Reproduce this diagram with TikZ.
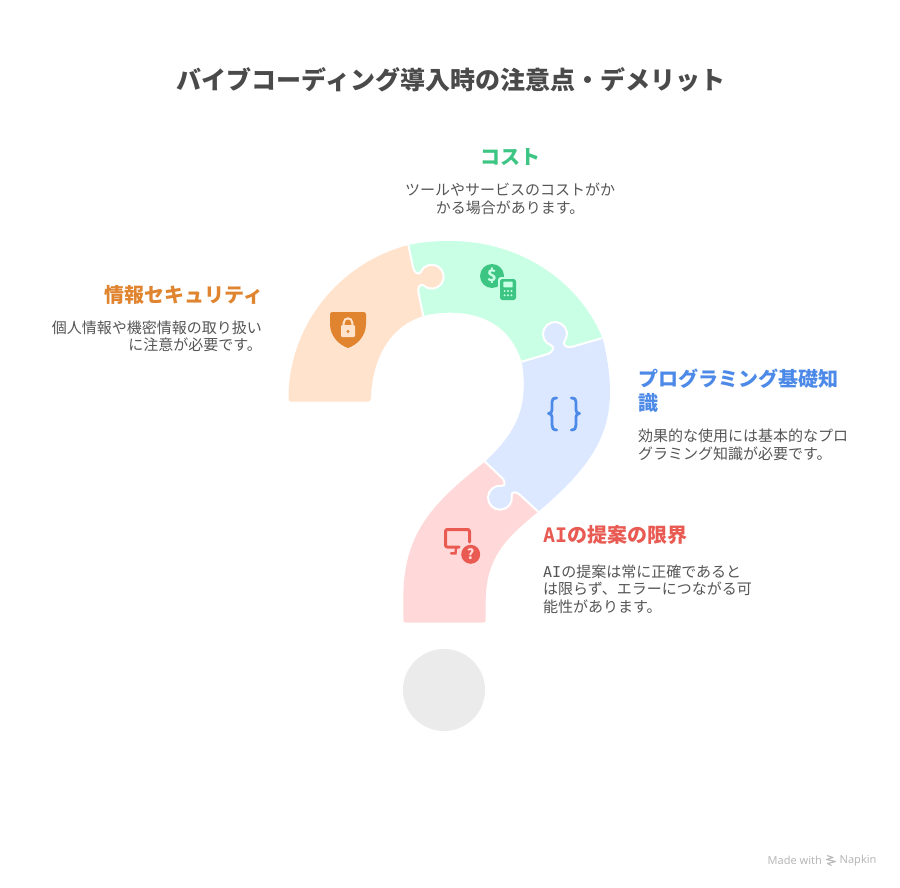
\documentclass[tikz,border=0pt]{standalone}
\usepackage{fontspec}
\setmainfont{Noto Sans CJK JP}
\newfontfamily\latinfont{Noto Sans}
\newfontfamily\aifont{DejaVu Sans Mono}
\definecolor{cOrangeBg}{HTML}{FFE3CD}
\definecolor{cGreenBg}{HTML}{C9FFE5}
\definecolor{cBlueBg}{HTML}{DBE8FF}
\definecolor{cRedBg}{HTML}{FFD9D9}
\definecolor{cOrange}{HTML}{E0842F}
\definecolor{cGreen}{HTML}{3CC583}
\definecolor{cBlue}{HTML}{4D8AE8}
\definecolor{cRed}{HTML}{E85A52}
\definecolor{cText}{HTML}{555555}
\definecolor{cTitle}{HTML}{4A4A4A}
\definecolor{cMark}{HTML}{B8B8B8}
\definecolor{cDot}{HTML}{EBEBEB}
\newcommand\kc[3]{\coordinate (\kn-#1) at ({\kcx+(#2)*\knx+(#3)*\kdx},{\kcy+(#2)*\kny+(#3)*\kdy});}
\newcommand\setknob[8]{%
  \def\kn{#1}\def\kcx{#2}\def\kcy{#3}\def\knx{#4}\def\kny{#5}\def\kdx{#6}\def\kdy{#7}\def\kf{#8}%
  \kc{s}{-\kf}{-12.5}\kc{a}{-\kf}{-7.5}\kc{b}{-12.1}{-3.6}\kc{p0}{-9.83}{-6.88}%
  \kc{c0}{-5.71}{-12.76}\kc{c1}{2.62}{-13.74}\kc{p1}{7.98}{-8.97}%
  \kc{c2}{13.34}{-4.20}\kc{c3}{13.34}{4.20}\kc{p2}{7.98}{8.97}%
  \kc{c4}{2.62}{13.74}\kc{c5}{-5.71}{12.76}\kc{p3}{-9.83}{6.88}%
  \kc{d}{-12.1}{3.6}\kc{f}{-\kf}{7.5}\kc{e}{-\kf}{12.5}}
\newcommand\knob[1]{-- (#1-s) .. controls (#1-a) and (#1-b) .. (#1-p0)
  .. controls (#1-c0) and (#1-c1) .. (#1-p1)
  .. controls (#1-c2) and (#1-c3) .. (#1-p2)
  .. controls (#1-c4) and (#1-c5) .. (#1-p3)
  .. controls (#1-d) and (#1-f) .. (#1-e)}
\tikzset{
  seam/.style={draw=white,line width=2pt,line join=round},
  headtext/.style={inner sep=0pt,font=\fontsize{20}{24}\selectfont\bfseries},
  bodytext/.style={inner sep=0pt,text=cText,font=\fontsize{15}{17.6}\selectfont},
}
\begin{document}
\begin{tikzpicture}[x=1pt,y=-1pt]
\useasboundingbox (0,0) rectangle (900,888);
\fill[white] (0,0) rectangle (900,888);
\coordinate (oa) at (408.3,245);
\coordinate (ob) at (423.3,316);
\coordinate (ga) at (521.7,361.7);
\coordinate (gb) at (602.5,338);
\coordinate (ra) at (538.2,511.7);
\coordinate (rb) at (485,461.7);
\setknob{k1}{431.7}{276.7}{0.978}{-0.207}{0.207}{0.978}{16.3}
\setknob{k2}{555}{334}{-0.284}{-0.959}{0.959}{-0.284}{17.1}
\setknob{k3}{500}{497.7}{-0.689}{0.726}{-0.726}{-0.689}{15.8}
% green
\fill[cGreenBg] (oa) .. controls (422,242) and (436,241) .. (450,241)
  .. controls (516,241) and (576.7,277) .. (gb) -- (ga)
  .. controls (511,328) and (485,312.7) .. (450,312.7)
  .. controls (441,312.7) and (432,313.5) .. (ob) -- cycle;
% red
\fill[cRedBg] (rb) .. controls (430,505) and (403,535) .. (403.3,600) -- (403.3,620)
  .. controls (403.3,622) and (404,622.7) .. (406,622.7) -- (483,622.7)
  .. controls (485,622.7) and (485.7,622) .. (485.7,620) -- (485.7,600)
  .. controls (486,555) and (510,535) .. (ra) -- cycle;
% orange
\fill[cOrangeBg] (oa) \knob{k1} -- (ob)
  .. controls (385,328) and (372,365) .. (371,398)
  .. controls (370.8,400.5) and (370,401.5) .. (368,401.5) -- (291,401.5)
  .. controls (289,401.5) and (288.3,400.5) .. (288.5,398)
  .. controls (288.5,327) and (337.7,263.5) .. (oa) -- cycle;
% blue
\fill[cBlueBg] (ga) \knob{k2} -- (gb)
  .. controls (607,355) and (610,375) .. (610,392)
  .. controls (610,440) and (585,472) .. (ra) \knob{k3} -- (rb)
  .. controls (508,440) and (522,420) .. (523.5,392)
  .. controls (524,385) and (524,372) .. (ga) -- cycle;
% seams
\draw[seam] (oa) \knob{k1} -- (ob);
\draw[seam] (ga) \knob{k2} -- (gb);
\draw[seam] (ra) \knob{k3} -- (rb);
% dot
\fill[cDot] (444,690) circle[radius=41];
% shield icon
\fill[cOrange] (332.5,312) -- (363.5,312) .. controls (365,312) and (366,313) .. (366,314.5)
  -- (366,324) .. controls (366,336) and (357,345) .. (348,348)
  .. controls (339,345) and (330,336) .. (330,324) -- (330,314.5)
  .. controls (330,313) and (331,312) .. (332.5,312) -- cycle;
\draw[cOrangeBg,line width=2pt] (343.6,326) -- (343.6,323) .. controls (343.6,316.8) and (352.4,316.8) .. (352.4,323) -- (352.4,326);
\fill[cOrangeBg,rounded corners=1.2pt] (341,325) rectangle (355,337);
\fill[cOrange] (348,331.5) circle[radius=1.7];
% money icon
\fill[cGreen] (492,276) circle[radius=12];
\node[inner sep=0pt,text=cGreenBg] (dollar) at (492,276) {\fontsize{16}{16}\selectfont\bfseries\$};
\fill[cGreenBg,rounded corners=3pt] (498,277) rectangle (518,302);
\fill[cGreen,rounded corners=1.8pt] (500,279) rectangle (516,300);
\fill[cGreenBg,rounded corners=0.6pt] (503.3,281.7) rectangle (512.7,287.3);
\foreach \bx in {504.6,508,511.4}{\foreach \by in {291,295.3}{\fill[cGreenBg] (\bx,\by) circle[radius=1.1];}}
% braces icon
\draw[cBlue,line width=2.8pt,line cap=round,line join=round]
  (556.7,398) .. controls (553,398) and (552,399.5) .. (552,402) -- (552,410) .. controls (552,412) and (551,413.5) .. (548.5,413.5)
  .. controls (551,413.5) and (552,415) .. (552,417) -- (552,425) .. controls (552,428) and (553,430) .. (556.7,430);
\draw[cBlue,line width=2.8pt,line cap=round,line join=round]
  (571.3,398) .. controls (575,398) and (576,399.5) .. (576,402) -- (576,410) .. controls (576,412) and (577,413.5) .. (579.5,413.5)
  .. controls (577,413.5) and (576,415) .. (576,417) -- (576,425) .. controls (576,428) and (575,430) .. (571.3,430);
% monitor icon
\draw[cRed,line width=3pt,line cap=round,line join=round]
  (469.5,542) -- (469.5,531.5) .. controls (469.5,530) and (468.5,529.5) .. (467.5,529.5)
  -- (447.5,529.5) .. controls (446.5,529.5) and (445.5,530) .. (445.5,531.5)
  -- (445.5,545) .. controls (445.5,546.5) and (446.5,547) .. (447.5,547) -- (459,547);
\draw[cRed,line width=2.4pt,line cap=round] (456,548) -- (455.5,553.3) -- (451,553.3);
\fill[cRed] (470.7,554.3) circle[radius=9.5];
\node[inner sep=0pt,text=cRedBg] (qmark) at (470.7,554.3) {\fontsize{14}{14}\selectfont\bfseries ?};
% texts
\node[inner sep=0pt,text=cTitle] (title) at (451,80) {\fontsize{25}{30}\selectfont\bfseries バイブコーディング導入時の注意点・デメリット};
\node[headtext,text=cGreen] (h1) at (510,157) {コスト};
\node[bodytext,align=center] (b1) at (510,198.5) {ツールやサービスのコストがか\\かる場合があります。};
\node[headtext,text=cOrange,anchor=east] (h2) at (263.5,295) {情報セキュリティ};
\node[bodytext,align=right,anchor=east] (b2) at (262,336.5) {個人情報や機密情報の取り扱い\\に注意が必要です。};
\node[headtext,text=cBlue,align=left,anchor=west] (h3) at (638,391) {プログラミング基礎知\\識};
\node[bodytext,align=left,anchor=west] (b3) at (638,444.8) {効果的な使用には基本的なプロ\\グラミング知識が必要です。};
\node[headtext,text=cRed,anchor=west] (h4) at (543,535) {{\aifont\bfseries AI}の提案の限界};
\node[bodytext,align=left,anchor=west] (b4) at (543,589) {{\aifont AI}の提案は常に正確であると\\は限らず、エラーにつながる可\\能性があります。};
% watermark
\node[inner sep=0pt,text=cMark,anchor=west] (made) at (767.5,860.5) {\latinfont\fontsize{11}{12}\selectfont Made with};
\node[inner sep=0pt,text=cMark,anchor=west] (napkin) at (839.5,860.5) {\latinfont\fontsize{11}{12}\selectfont Napkin};
\draw[cMark,line width=1.1pt,line join=round] (827,855.5) -- (833,857.5) -- (826.5,859.5) -- (835.5,861.5) -- (827.5,863.5) -- (831.5,865.5);
\end{tikzpicture}
\end{document}
